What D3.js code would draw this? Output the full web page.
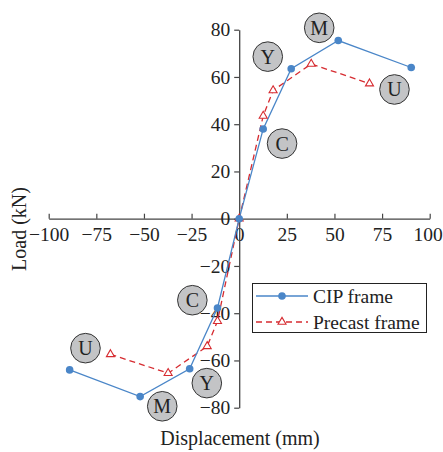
<!DOCTYPE html>
<html><head><meta charset="utf-8">
<script src="https://cdn.jsdelivr.net/npm/d3@7"></script>
<style>body{margin:0;background:#fff}svg{display:block}</style>
</head><body>
<svg id="c" width="443" height="452"></svg>
<script>
const xTicks = [-100,-75,-50,-25,0,25,50,75,100];
const yTicks = [-80,-60,-40,-20,0,20,40,60,80];
const cipX = [-89,-52,-26,-11.4,0,12.6,27.3,52,90.3];
const cipY = [-64,-75.3,-63.5,-37.8,0,38,63.5,75.4,64];
const preX = [-67.6,-37.3,-16.8,-11.4,0,12.6,17.8,37.8,68.4];
const preY = [-57.4,-65.4,-54,-43.4,0,43.5,54.3,65.5,57.2];
const seriesNames = ["CIP frame","Precast frame"];
const labelText = ["M","Y","C","U","C","U","M","Y"];
const labelX = [42,15,22.5,81.5,-24.6,-80.7,-40.4,-17];
const labelY = [80.8,68.6,31.8,54.7,-34.5,-54.8,-79.4,-69.6];

const svg = d3.select("#c");
const font = "'Liberation Serif', 'Times New Roman', serif";
const x = d3.scaleLinear().domain([-100,100]).range([48.7,429.7]);
const y = d3.scaleLinear().domain([-80,80]).range([407.7,29.7]);
const axisColor = "#444";
const fmt = d=>d<0?"\u2212"+Math.abs(d):d;

// x axis (ticks upward)
const gx = svg.append("g").attr("transform",`translate(0,${y(0)})`)
  .call(d3.axisBottom(x).tickValues(xTicks).tickSize(-5).tickSizeOuter(0).tickPadding(5).tickFormat(fmt));
gx.select(".domain").attr("stroke",axisColor).attr("stroke-width",1.3);
gx.selectAll(".tick line").attr("stroke",axisColor).attr("stroke-width",1.2);
gx.selectAll("text").attr("font-family",font).attr("font-size",19.5).attr("fill","#222").attr("dy","0.88em")
  .attr("dx",d=>d===100?-2:0);

const gy = svg.append("g").attr("transform",`translate(${x(0)},0)`)
  .call(d3.axisLeft(y).tickValues(yTicks).tickSize(5).tickSizeOuter(0).tickPadding(4).tickFormat(fmt));
gy.select(".domain").attr("stroke",axisColor).attr("stroke-width",1.3);
gy.selectAll(".tick line").attr("stroke",axisColor).attr("stroke-width",1.2);
gy.selectAll("text").attr("font-family",font).attr("font-size",19.5).attr("fill","#222");

// titles
svg.append("text").attr("x",240).attr("y",445).attr("text-anchor","middle")
  .attr("font-family",font).attr("font-size",20).attr("fill","#222").text("Displacement (mm)");
svg.append("text").attr("transform",`translate(26,229) rotate(-90)`).attr("text-anchor","middle")
  .attr("font-family",font).attr("font-size",20).attr("fill","#222").text("Load (kN)");

const blue = "#4a86c8", red = "#d62b30";
const cip = cipX.map((d,i)=>[d,cipY[i]]);
const pre = preX.map((d,i)=>[d,preY[i]]);
const line = d3.line().x(d=>x(d[0])).y(d=>y(d[1]));
svg.append("path").attr("d",line(pre)).attr("fill","none").attr("stroke",red).attr("stroke-width",1.3).attr("stroke-dasharray","6,4");
svg.append("path").attr("d",line(cip)).attr("fill","none").attr("stroke",blue).attr("stroke-width",1.3);
const tri = d3.symbol().type(d3.symbolTriangle).size(28);
svg.selectAll(".pt").data(pre).enter().append("path").attr("d",tri)
  .attr("transform",d=>`translate(${x(d[0])},${y(d[1])})`).attr("fill","#fff").attr("stroke",red).attr("stroke-width",1.1);
svg.selectAll(".cp").data(cip).enter().append("circle").attr("cx",d=>x(d[0])).attr("cy",d=>y(d[1])).attr("r",3.8).attr("fill",blue);

// label circles
const lab = svg.selectAll(".lab").data(labelText).enter().append("g")
  .attr("transform",(d,i)=>`translate(${x(labelX[i])},${y(labelY[i])})`);
lab.append("circle").attr("r",14.8).attr("fill","#c3c4c6").attr("stroke","#333").attr("stroke-width",1);
lab.append("text").attr("text-anchor","middle").attr("dy","0.35em").attr("font-family",font).attr("font-size",20).attr("fill","#222").text(d=>d);

// legend
const lg = svg.append("g");
lg.append("rect").attr("x",252.5).attr("y",283.5).attr("width",174).attr("height",49).attr("fill","#fff").attr("stroke","#222").attr("stroke-width",1);
lg.append("line").attr("x1",256).attr("x2",308).attr("y1",296).attr("y2",296).attr("stroke",blue).attr("stroke-width",1.3);
lg.append("circle").attr("cx",282).attr("cy",296).attr("r",3.8).attr("fill",blue);
lg.append("line").attr("x1",256).attr("x2",308).attr("y1",322).attr("y2",322).attr("stroke",red).attr("stroke-width",1.3).attr("stroke-dasharray","6,4");
lg.append("path").attr("d",tri).attr("transform","translate(282,322)").attr("fill","#fff").attr("stroke",red).attr("stroke-width",1.1);
lg.selectAll(".lt").data(seriesNames).enter().append("text").attr("x",313).attr("y",(d,i)=>296+i*26).attr("dy","0.35em")
  .attr("font-family",font).attr("font-size",19.5).attr("fill","#222").text(d=>d);
</script>
</body></html>
